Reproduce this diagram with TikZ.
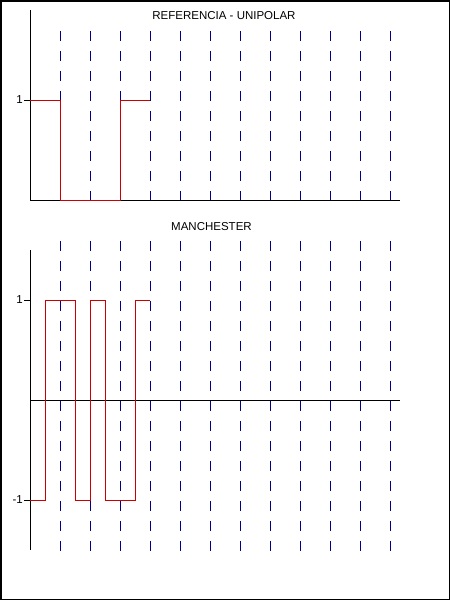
\documentclass[tikz,border=0pt]{standalone}
\usepackage{fontspec}
\setmainfont{Liberation Sans}
\definecolor{sigred}{RGB}{204,0,0}
\definecolor{clkblue}{RGB}{0,0,140}
\begin{document}
\begin{tikzpicture}
    [x=1pt, y=-1pt, font=\fontsize{11.5}{13}\selectfont,
    axis/.style={draw=black, line width=1pt},
    clock/.style={draw=clkblue, line width=1pt, dash pattern=on 10pt off 10pt},
    signal/.style={draw=sigred, line width=1pt},
    level/.style={anchor=east, inner sep=0pt}]
    \useasboundingbox (0,0) rectangle (450,600);
    \draw [line width=1.5pt] (0.75,0.75) rectangle (449.25,599.25);
    % titles
    \node (unititle) at (224,16) {REFERENCIA - UNIPOLAR};
    \node (mantitle) at (211.5,227) {MANCHESTER};
    % bit clock
    \foreach \x in {60,90,...,390} {
        \draw [clock] (\x,31) -- (\x,200);
        \draw [clock] (\x,241) -- (\x,551);
    }
    % axes
    \draw [axis] (30,10) -- (30,200) -- (400,200);
    \draw [axis] (30,250) -- (30,550);
    \draw [axis] (30,400) -- (400,400);
    \draw [axis] (24,100) -- (30,100);
    \draw [axis] (24,300) -- (30,300);
    \draw [axis] (24,500) -- (30,500);
    \node [level] (uone) at (23,100) {1};
    \node [level] (mone) at (23,300) {1};
    \node [level] (mminus) at (23,500) {-1};
    % signals
    \draw [signal] (30,100) -- (60,100) -- (60,200) -- (120,200)
        -- (120,100) -- (150,100);
    \draw [signal] (30,500) -- (45,500) -- (45,300) -- (75,300)
        -- (75,500) -- (90,500) -- (90,300) -- (105,300) -- (105,500)
        -- (135,500) -- (135,300) -- (150,300);
\end{tikzpicture}
\end{document}
